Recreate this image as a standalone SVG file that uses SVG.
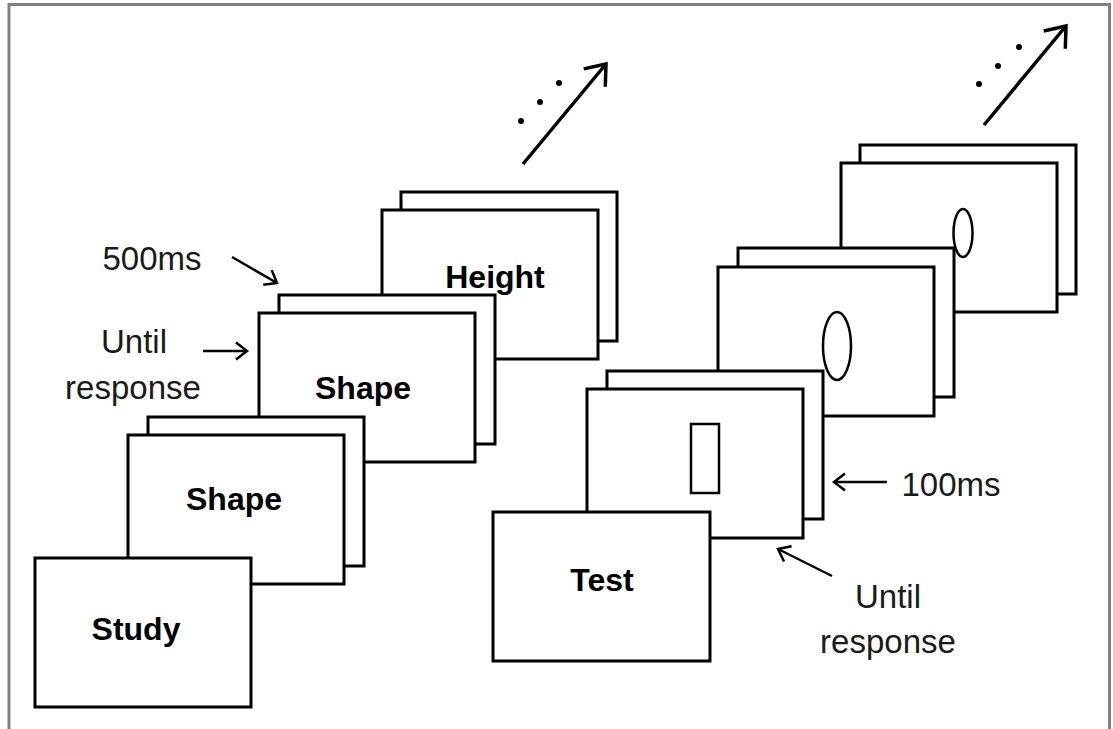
<svg xmlns="http://www.w3.org/2000/svg" width="1113" height="729" viewBox="0 0 1113 729">
<style>
.card{fill:#fff;stroke:#000;stroke-width:3}
.lbl{font-family:"Liberation Sans",Arial,sans-serif;font-size:32px;font-weight:bold;fill:#000;text-anchor:middle}
.note{font-family:"Liberation Sans",Arial,sans-serif;font-size:33px;fill:#1a1a1a;text-anchor:middle}
.stim{fill:none;stroke:#000;stroke-width:2.5}
.big{stroke:#000;stroke-width:3.5;fill:none;marker-end:url(#bigHead)}
.small{stroke:#000;stroke-width:2.5;fill:none;marker-end:url(#smallHead)}
</style>
<defs>
<marker id="bigHead" markerUnits="userSpaceOnUse" viewBox="-22 -18 26 36" refX="0" refY="0" markerWidth="26" markerHeight="36" orient="auto" overflow="visible">
<path d="M-18,-14 L0,0 L-18,14" fill="none" stroke="#000" stroke-width="3.5"/>
</marker>
<marker id="smallHead" markerUnits="userSpaceOnUse" viewBox="-14 -11 17 22" refX="0" refY="0" markerWidth="17" markerHeight="22" orient="auto" overflow="visible">
<path d="M-11,-8.5 L0,0 L-11,8.5" fill="none" stroke="#000" stroke-width="2.5"/>
</marker>
</defs>
<rect width="1113" height="729" fill="#fff"/>
<path d="M9,729 V4.5 H1109.5 V729" fill="none" stroke="#808080" stroke-width="3"/>

<g id="height">
<rect class="card" x="401" y="192" width="216" height="149"/>
<rect class="card" x="382" y="210" width="216" height="149"/>
<text class="lbl" x="495" y="288">Height</text>
</g>
<g id="shape-upper">
<rect class="card" x="279" y="295" width="216" height="149"/>
<rect class="card" x="259" y="313" width="216" height="149"/>
<text class="lbl" x="363" y="399">Shape</text>
</g>
<g id="shape-lower">
<rect class="card" x="148" y="417" width="216" height="149"/>
<rect class="card" x="128" y="435" width="216" height="149"/>
<text class="lbl" x="234" y="510">Shape</text>
</g>
<g id="study">
<rect class="card" x="35" y="558" width="216" height="149"/>
<text class="lbl" x="136" y="640">Study</text>
</g>

<g id="oval-top">
<rect class="card" x="860" y="145" width="216" height="149"/>
<rect class="card" x="841" y="163" width="216" height="149"/>
<ellipse class="stim" cx="963" cy="233" rx="9.5" ry="24"/>
</g>
<g id="oval-lower">
<rect class="card" x="738" y="248" width="216" height="149"/>
<rect class="card" x="718" y="267" width="216" height="149"/>
<ellipse class="stim" cx="837" cy="346" rx="14" ry="34"/>
</g>
<g id="rect-stim">
<rect class="card" x="607" y="371" width="216" height="148"/>
<rect class="card" x="587" y="389" width="216" height="149"/>
<rect class="stim" x="691" y="424" width="28" height="69" stroke-width="3"/>
</g>
<g id="test">
<rect class="card" x="493" y="512" width="217" height="149"/>
<text class="lbl" x="602" y="591">Test</text>
</g>

<g id="continue-left">
<circle cx="521" cy="121" r="3"/>
<circle cx="540" cy="102" r="3"/>
<circle cx="559" cy="83" r="3"/>
</g>
<g id="continue-right">
<circle cx="979" cy="84" r="3"/>
<circle cx="998" cy="66" r="3"/>
<circle cx="1019" cy="47" r="3"/>
</g>

<g id="labels">
<text class="note" x="152" y="270">500ms</text>
<text class="note" x="134" y="353">Until</text>
<text class="note" x="133" y="399">response</text>
<text class="note" x="951" y="496">100ms</text>
<text class="note" x="888" y="608">Until</text>
<text class="note" x="888" y="653">response</text>
</g>

<g id="connectors">
<path class="big" d="M523,164 L606,64"/>
<path class="big" d="M984,125 L1066,26"/>
<path class="small" d="M232,257 L277,283"/>
<path class="small" d="M203,351 L247,351"/>
<path class="small" d="M887,482 L834,482"/>
<path class="small" d="M832,576 L778,549"/>
</g>
</svg>
